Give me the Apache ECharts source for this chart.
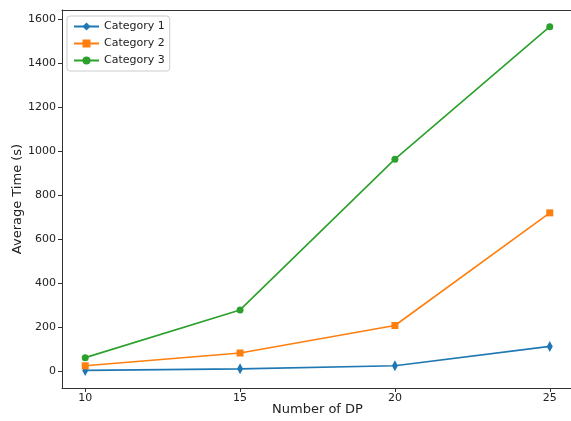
<!DOCTYPE html>
<html><head><meta charset="utf-8">
<script src="https://cdn.jsdelivr.net/npm/echarts@6/dist/echarts.min.js"></script>
<style>html,body{margin:0;padding:0;background:#fff}#c{width:571px;height:421px}</style>
</head><body><div id="c"></div>
<script>
const xValues = [10, 15, 20, 25];
const cat1 = [5, 12, 26, 114];
const cat2 = [26, 84, 209, 721];
const cat3 = [63, 280, 965, 1567];
const seriesNames = ['Category 1', 'Category 2', 'Category 3'];
const xTicks = [10, 15, 20, 25];
const yTicks = [0, 200, 400, 600, 800, 1000, 1200, 1400, 1600];

const colors = ['#1f77b4', '#ff7f0e', '#2ca02c'];
const font = 'DejaVu Sans';
function pts(v){ return xValues.map((x,i)=>[x, v[i]]); }

const chart = echarts.init(document.getElementById('c'), null, {renderer:'canvas'});
chart.setOption({
  animation:false,
  color: colors,
  textStyle:{fontFamily:font},
  grid:{left:62, top:10, right:-2, bottom:33, containLabel:false, outerBoundsMode:'none', show:false},
  legend:{
    orient:'vertical', left:67, top:16, itemWidth:25, itemHeight:10, itemGap:6,
    padding:[5,5,5,6],
    backgroundColor:'#fff', borderColor:'#ccc', borderWidth:1, borderRadius:3,
    textStyle:{fontFamily:font, fontSize:11, color:'#222'},
    data: seriesNames
  },
  xAxis:[{
    type:'value', min:9.25, max:25.75,
    name:'Number of DP', nameLocation:'middle', nameGap:15, nameMoveOverlap:false,
    nameTextStyle:{fontFamily:font, fontSize:13, color:'#222', verticalAlign:'top'},
    axisLine:{show:true, onZero:false, lineStyle:{color:'#333', width:1}},
    axisTick:{show:true, inside:false, length:4, customValues:xTicks, lineStyle:{color:'#333'}},
    axisLabel:{customValues:xTicks, fontFamily:font, fontSize:11, color:'#222', margin:5, formatter:v=>String(v)},
    splitLine:{show:false}
  },{
    type:'value', position:'top', min:9.25, max:25.75,
    axisLine:{show:true, onZero:false, lineStyle:{color:'#333', width:1}},
    axisTick:{show:false}, axisLabel:{show:false}, splitLine:{show:false}
  }],
  yAxis:{
    type:'value', min:-75, max:1643,
    name:'Average Time (s)', nameLocation:'middle', nameGap:38, nameMoveOverlap:false,
    nameTextStyle:{fontFamily:font, fontSize:13, color:'#222'},
    axisLine:{show:true, onZero:false, lineStyle:{color:'#333', width:1}},
    axisTick:{show:true, inside:false, length:4, customValues:yTicks, lineStyle:{color:'#333'}},
    axisLabel:{customValues:yTicks, fontFamily:font, fontSize:11, color:'#222', margin:6, formatter:v=>String(v)},
    splitLine:{show:false}
  },
  series:[
    {name:seriesNames[0], type:'line', data:pts(cat1), symbol:'diamond', symbolSize:[6,11], lineStyle:{width:1.6}, itemStyle:{color:colors[0]}},
    {name:seriesNames[1], type:'line', data:pts(cat2), symbol:'rect', symbolSize:7, lineStyle:{width:1.6}, itemStyle:{color:colors[1]}},
    {name:seriesNames[2], type:'line', data:pts(cat3), symbol:'circle', symbolSize:7, lineStyle:{width:1.6}, itemStyle:{color:colors[2]}}
  ]
});
</script></body></html>
